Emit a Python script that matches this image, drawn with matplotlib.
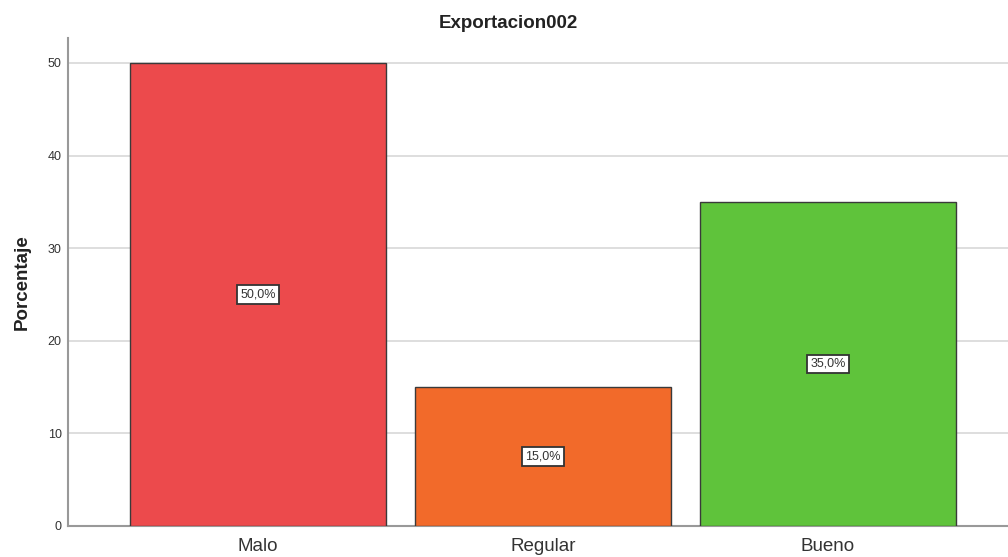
import numpy as np
import matplotlib.pyplot as plt

plt.rcParams['font.family'] = ['Liberation Sans', 'DejaVu Sans']

#-------------------------------------------------------------
categorias = ["Malo", "Regular", "Bueno"]
porcentajes = [50.0, 15.0, 35.0]
colores = ["#EC4A4C", "#F26A2A", "#5FC33B"]
yticks = [0, 10, 20, 30, 40, 50]

#-------------------------------------------------------------
fig = plt.figure(figsize=(10.08, 5.57), dpi=100)
ax = fig.add_axes([0.0675, 0.0557, 0.9325, 0.8761])

x = np.arange(len(categorias))
bars = ax.bar(x, porcentajes, width=0.898, color=colores,
              edgecolor="#3a3a3a", linewidth=1.0, zorder=3)

for b, v in zip(bars, porcentajes):
    ax.text(b.get_x() + b.get_width()/2, v/2, f"{v:.1f}%".replace(".", ","),
            ha="center", va="center", fontsize=9, color="#333333", zorder=4,
            bbox=dict(boxstyle="square,pad=0.25", fc="white", ec="#333333", lw=1.3))
#end-for

ax.set_xlim(-0.667, 2.632)
ax.set_ylim(0, 52.7)
ax.set_yticks(yticks)
ax.set_yticklabels([str(t) for t in yticks], fontsize=9, color="#333333")
ax.set_xticks(x)
ax.set_xticklabels(categorias, fontsize=13.5, color="#333333")
ax.tick_params(axis="x", length=0, pad=9)
ax.tick_params(axis="y", length=0, pad=4.5)

ax.grid(axis="y", color="#d8d8d8", linewidth=1.2, zorder=0)
for s in ["top", "right"]:
    ax.spines[s].set_visible(False)
for s in ["left", "bottom"]:
    ax.spines[s].set_color("#999999")
    ax.spines[s].set_linewidth(1.5)

ax.set_ylabel("Porcentaje", fontsize=13.5, fontweight="bold", color="#222222", labelpad=12)
fig.text(0.504, 0.958, "Exportacion002", ha="center", va="center",
         fontsize=13.5, fontweight="bold", color="#222222")

fig.savefig("out.png", dpi=100)
